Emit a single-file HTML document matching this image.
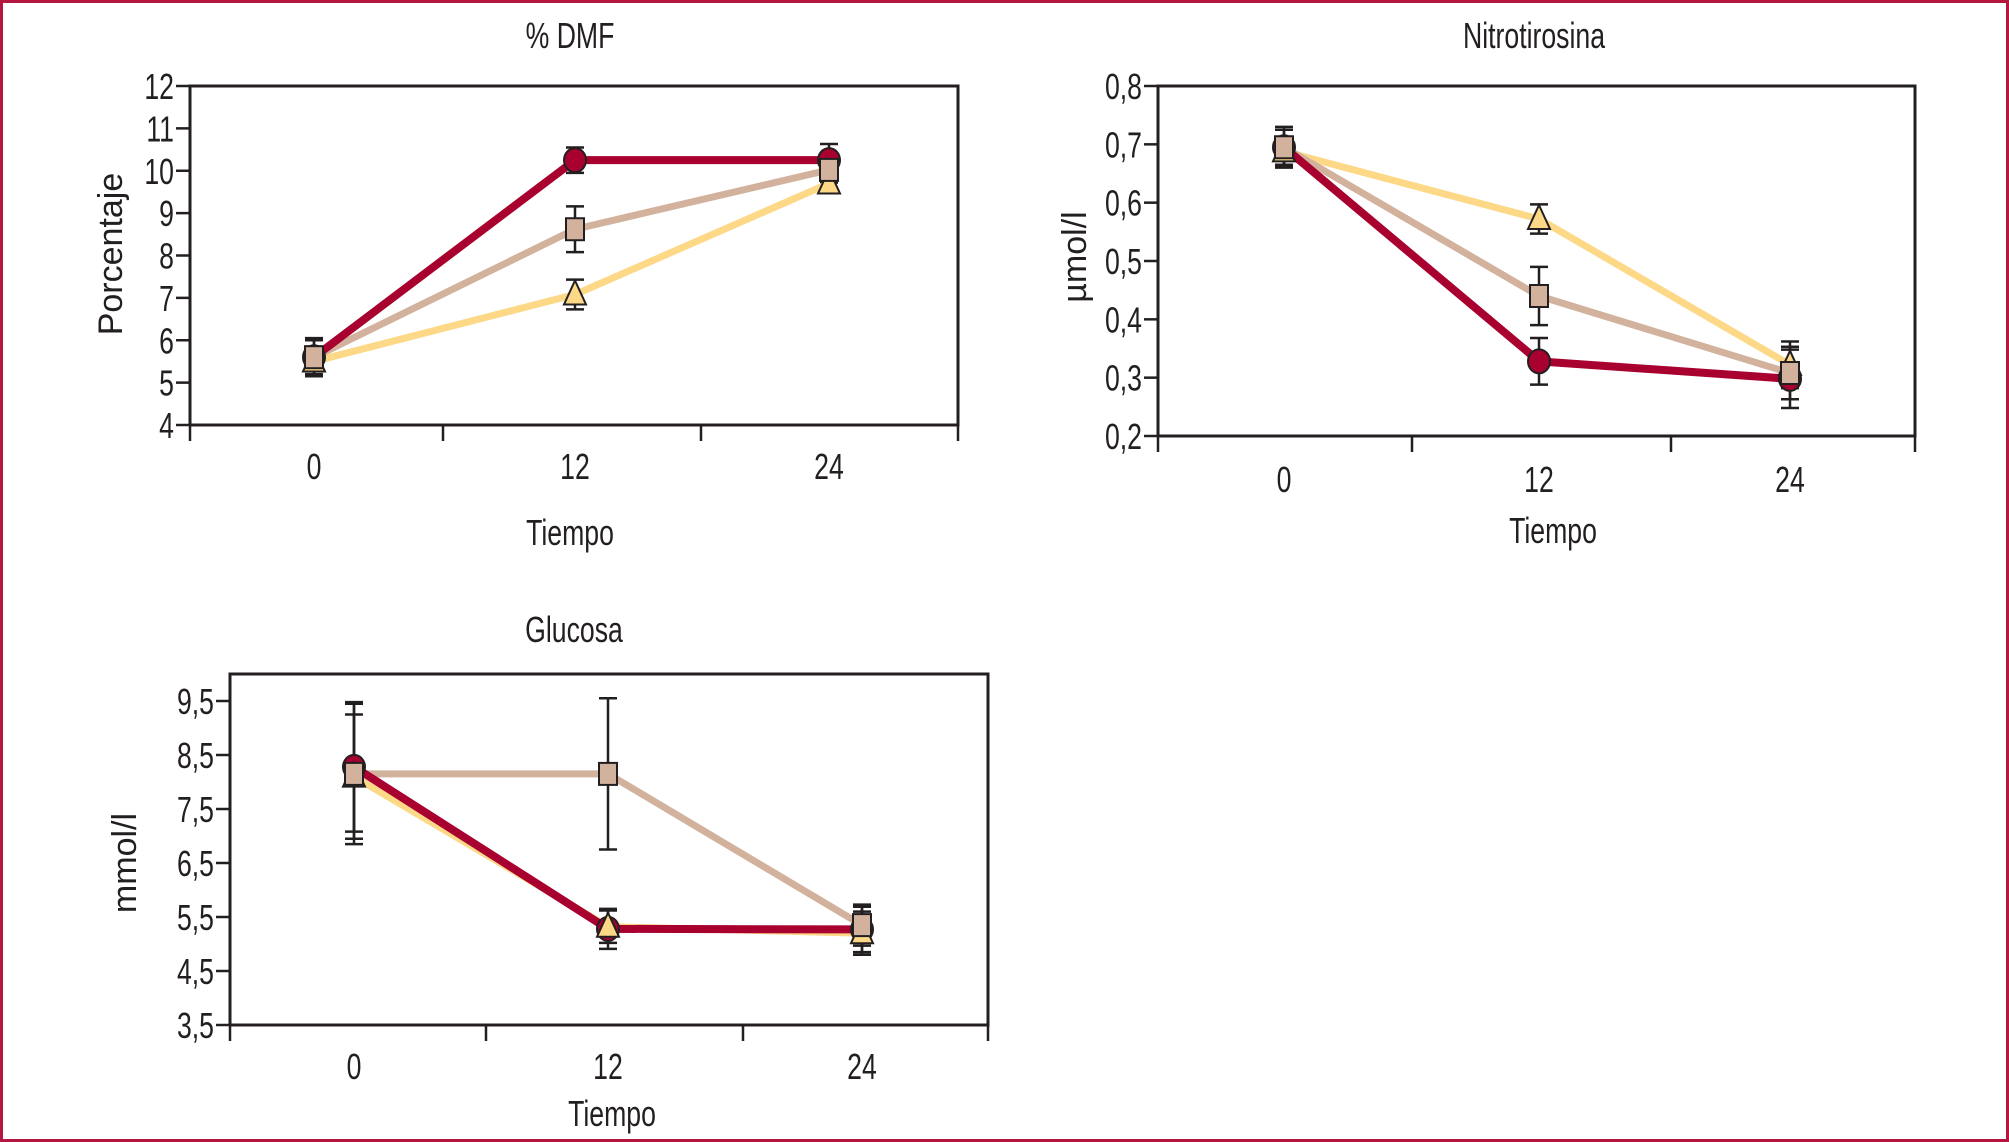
<!DOCTYPE html>
<html><head><meta charset="utf-8"><style>
html,body{margin:0;padding:0;background:#fff}
svg{display:block}
text{font-family:"Liberation Sans",sans-serif;fill:#231f20}
</style></head><body>
<svg id="s" width="2009" height="1142" viewBox="0 0 2009 1142" xmlns="http://www.w3.org/2000/svg">
<rect x="1.5" y="1.5" width="2006" height="1139" fill="#fff" stroke="#b3173f" stroke-width="3"/>
</svg>
<script>
// Chart 1: % DMF
const times = ["0","12","24"];
const dmfTicks = ["4","5","6","7","8","9","10","11","12"];
const dmfRed = [5.6, 10.25, 10.25];
const dmfTan = [5.6, 8.62, 10.02];
const dmfYellow = [5.5, 7.08, 9.7];
const dmfRedErr = [0.45, 0.3, 0.38];
const dmfTanErr = [0.4, 0.54, 0.3];
const dmfYellowErr = [0.35, 0.35, 0.2];
// Chart 2: Nitrotirosina
const nitTicks = ["0,2","0,3","0,4","0,5","0,6","0,7","0,8"];
const nitRed = [0.695, 0.328, 0.298];
const nitTan = [0.695, 0.44, 0.308];
const nitYellow = [0.688, 0.572, 0.322];
const nitRedErr = [0.035, 0.04, 0.05];
const nitTanErr = [0.03, 0.05, 0.045];
const nitYellowErr = [0.025, 0.025, 0.04];
// Chart 3: Glucosa
const gluTicks = ["3,5","4,5","5,5","6,5","7,5","8,5","9,5"];
const gluRed = [8.28, 5.28, 5.27];
const gluTan = [8.15, 8.15, 5.35];
const gluYellow = [8.1, 5.32, 5.2];
const gluRedErr = [1.2, 0.37, 0.42];
const gluTanErr = [1.3, 1.4, 0.38];
const gluYellowErr = [1.15, 0.3, 0.4];

const NS="http://www.w3.org/2000/svg";
const svg=document.getElementById('s');
function mk(tag,attrs,parent,txt){const e=document.createElementNS(NS,tag);for(const k in attrs)e.setAttribute(k,attrs[k]);if(txt!==undefined)e.textContent=txt;(parent||svg).appendChild(e);return e;}
function ntext(x,y,anchor,size,parent,txt){
  return mk('text',{x:0,y:0,'text-anchor':anchor,'font-size':size,transform:`translate(${x} ${y}) scale(0.74 1)`},parent,txt);
}

function chart(cfg){
  const g=mk('g',{});
  
  
  const {L,R,T,B,ymin,ymax,ticks,px}=cfg;
  const y=v=>B-(v-ymin)/(ymax-ymin)*(B-cfg.yTop);
  const xs=i=>px[i];
  const box=mk('path',{d:`M${L},${B}V${T}H${R}V${B}H${L}`,fill:'none',stroke:'#231f20','stroke-width':3},g);
  
  
  ticks.forEach((t,i)=>{
    const v=ymin+i*cfg.step, yy=y(v);
    const tl=mk('line',{x1:L-14,x2:L,y1:yy,y2:yy,stroke:'#231f20','stroke-width':2.5},g);
    
    
    const tx=ntext(L-16,yy+13,'end',36,g,t);
    
    
  });
  cfg.xt.forEach(xx=>{
    const tl=mk('line',{x1:xx,x2:xx,y1:B,y2:B+16,stroke:'#231f20','stroke-width':2.5},g);
    
    
  });
  times.forEach((t,i)=>{
    const tx=ntext(xs(i),cfg.xlY,'middle',36,g,t);
    
    
  });
  const tt=ntext(cfg.titleX,cfg.titleY,'middle',36,g,cfg.title);
  
  
  const xa=ntext(cfg.xtX,cfg.xtY,'middle',36,g,'Tiempo');
  
  
  const ya=mk('text',{x:cfg.ylX,y:cfg.ylY,'text-anchor':'middle','font-size':34,transform:`rotate(-90 ${cfg.ylX} ${cfg.ylY})`},g,cfg.ylabel);
  
  
  const series=[
    {n:'yellow',d:cfg.yel,e:cfg.yelE,c:'#fdd886',w:7,m:'tri'},
    {n:'tan',d:cfg.tan,e:cfg.tanE,c:'#d2b29d',w:7,m:'sq'},
    {n:'red',d:cfg.red,e:cfg.redE,c:'#a8002f',w:8,m:'circ'}];
  series.forEach(s=>{
    s.d.forEach((v,i)=>{
      const x=xs(i), y1=y(v+s.e[i]), y2=y(v-s.e[i]);
      const eb=mk('path',{d:`M${x},${y1}V${y2}M${x-9},${y1}H${x+9}M${x-9},${y2}H${x+9}`,stroke:'#231f20','stroke-width':2.5,fill:'none'},g);
      
      
    });
  });
  series.forEach(s=>{
    const pl=mk('polyline',{points:s.d.map((v,i)=>xs(i)+','+y(v)).join(' '),fill:'none',stroke:s.c,'stroke-width':s.w,'stroke-linejoin':'round'},g);
    
    
  });
  [series[2],series[0],series[1]].forEach(s=>{
    s.d.forEach((v,i)=>{
      const x=xs(i),yy=y(v);let m;
      if(s.m==='circ')m=mk('ellipse',{cx:x,cy:yy,rx:11,ry:12,fill:s.c,stroke:'#231f20','stroke-width':2},g);
      else if(s.m==='sq')m=mk('rect',{x:x-9,y:yy-11,width:18,height:22,fill:s.c,stroke:'#231f20','stroke-width':2},g);
      else m=mk('polygon',{points:`${x},${yy-14} ${x+11},${yy+10} ${x-11},${yy+10}`,fill:s.c,stroke:'#231f20','stroke-width':2},g);
      
      
    });
  });
}

chart({name:'chart-dmf',title:'% DMF',ylabel:'Porcentaje',L:190,R:958,T:86,B:425,yTop:86,ymin:4,ymax:12,step:1,ticks:dmfTicks,
  px:[314,575,829],xt:[190,443,701,958],xlY:479,titleX:570,titleY:48,xtX:570,xtY:545,ylX:122,ylY:254,
  red:dmfRed,tan:dmfTan,yel:dmfYellow,redE:dmfRedErr,tanE:dmfTanErr,yelE:dmfYellowErr});
chart({name:'chart-nitrotirosina',title:'Nitrotirosina',ylabel:'µmol/l',L:1158,R:1915,T:86,B:436,yTop:86,ymin:0.2,ymax:0.8,step:0.1,ticks:nitTicks,
  px:[1284,1539,1790],xt:[1158,1412,1671,1915],xlY:492,titleX:1534,titleY:48,xtX:1553,xtY:543,ylX:1086,ylY:257,
  red:nitRed,tan:nitTan,yel:nitYellow,redE:nitRedErr,tanE:nitTanErr,yelE:nitYellowErr});
chart({name:'chart-glucosa',title:'Glucosa',ylabel:'mmol/l',L:230,R:988,T:674,B:1025,yTop:701,ymin:3.5,ymax:9.5,step:1,ticks:gluTicks,
  px:[354,608,862],xt:[230,486,743,988],xlY:1079,titleX:574,titleY:642,xtX:612,xtY:1126,ylX:136,ylY:863,
  red:gluRed,tan:gluTan,yel:gluYellow,redE:gluRedErr,tanE:gluTanErr,yelE:gluYellowErr});
</script>
</body></html>
